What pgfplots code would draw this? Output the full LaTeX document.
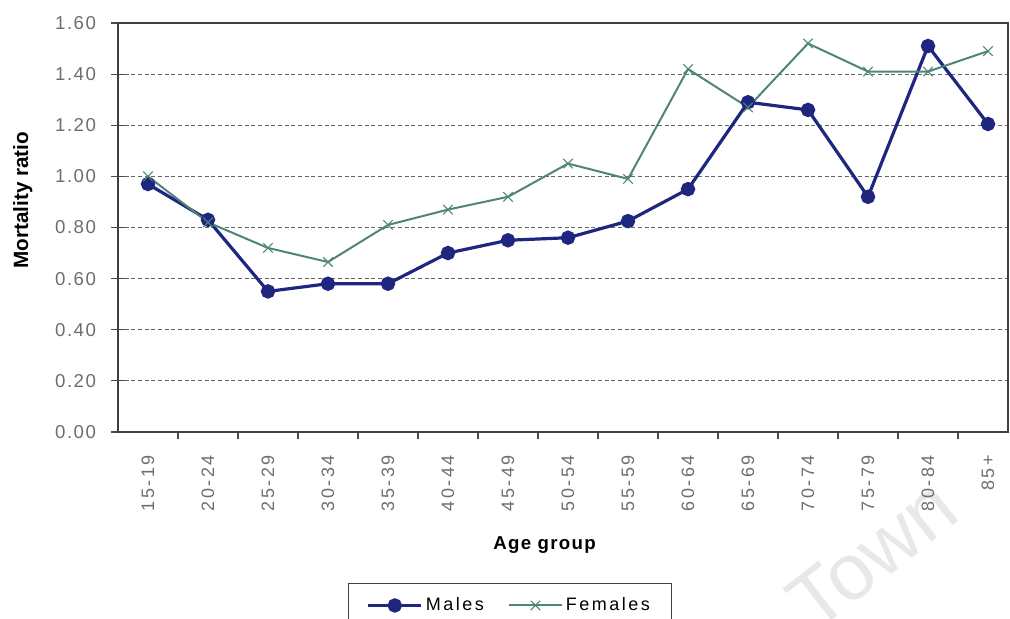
\documentclass[border=0pt]{standalone}
\usepackage{pgfplots}
\pgfplotsset{compat=1.18}
\usepackage{fontspec}
\setmainfont{Liberation Sans}
\newfontfamily\xtickfont[LetterSpace=14]{Liberation Sans}
\newfontfamily\ytickfont[LetterSpace=8]{Liberation Sans}
\newfontfamily\legfont[LetterSpace=14]{Liberation Sans}
\newfontfamily\labfont[LetterSpace=7]{Liberation Sans}
\usetikzlibrary{calc}
\pgfdeclarelayer{background}
\pgfsetlayers{background,main}
\definecolor{males}{HTML}{1F2680}
\definecolor{females}{HTML}{4F8573}
\definecolor{tickgray}{HTML}{6E6E6E}
\begin{document}
\begin{tikzpicture}
\begin{axis}[
  scale only axis, width=667.5pt, height=306.75pt,
  xmin=-0.5, xmax=14.333, ymin=0, ymax=1.6,
  xtick={0,...,14},
  xticklabels={15-19,20-24,25-29,30-34,35-39,40-44,45-49,50-54,55-59,60-64,65-69,70-74,75-79,80-84,85+},
  xtick pos=lower, ytick pos=left,
  major x tick style={draw=none},
  minor xtick={0.5,1.5,...,13.5},
  minor tick length=5pt,
  minor x tick style={draw=black!70, line width=0.8pt, yshift=-2.5pt},
  ytick={0,0.2,...,1.6},
  major tick length=10pt,
  y tick style={draw=black!70, line width=0.8pt},
  tick align=center,
  x tick label style={rotate=90, anchor=east, font=\xtickfont\fontsize{13.5}{15}\selectfont, text=tickgray, xshift=-9pt},
  y tick label style={font=\ytickfont\fontsize{14}{16}\selectfont, text=tickgray, xshift=-8pt},
  yticklabel style={/pgf/number format/.cd, fixed, fixed zerofill, precision=2, assume math mode=true},
  ymajorgrids,
  major grid style={densely dashed, black!60, line width=0.6pt},
  axis line style={black!75, line width=0.8pt},
  ylabel={\textbf{Mortality ratio}},
  ylabel style={at={(axis description cs:-0.107,0.567)}, anchor=center, font=\fontsize{15.5}{17}\selectfont},
  xlabel={\textbf{Age group}},
  xlabel style={at={(axis description cs:0.48,0)}, anchor=center, yshift=-84.75pt, font=\labfont\fontsize{14}{16}\selectfont},
  legend columns=2,
  legend style={at={(axis description cs:0.258,0)}, anchor=north west, yshift=-113.25pt,
    draw=black!75, font=\legfont\fontsize{13.5}{15}\selectfont, inner ysep=9pt, inner xsep=14pt,
    /tikz/every even column/.append style={column sep=16pt}},
  legend image code/.code={\draw[mark repeat=2, mark phase=2, #1] plot coordinates {(0pt,0pt) (20pt,0pt) (40pt,0pt)};},
  clip=false,
]
\addplot[males, line width=2.4pt, mark=*, mark size=4.2pt] coordinates {
 (0,0.97) (1,0.83) (2,0.55) (3,0.58) (4,0.58) (5,0.70) (6,0.75) (7,0.76)
 (8,0.825) (9,0.95) (10,1.29) (11,1.26) (12,0.92) (13,1.51) (14,1.205)};
\addlegendentry{Males}
\addplot[females, line width=1.5pt, mark=x, mark size=5pt, mark options={line width=0.8pt}] coordinates {
 (0,1.00) (1,0.82) (2,0.72) (3,0.665) (4,0.81) (5,0.87) (6,0.92) (7,1.05)
 (8,0.99) (9,1.42) (10,1.27) (11,1.52) (12,1.41) (13,1.41) (14,1.49)};
\addlegendentry{Females}
\end{axis}
\begin{pgfonlayer}{background}
\node[rotate=38, text=black!9, font=\fontsize{60}{62}\selectfont] at ($(current axis.south west)+(566pt,-92pt)$) {Town};
\end{pgfonlayer}
\pgfresetboundingbox
\path[use as bounding box] ($(current axis.south west)+(-88.5pt,-140.25pt)$) rectangle ($(current axis.north east)+(1.5pt,17.25pt)$);
\end{tikzpicture}
\end{document}
